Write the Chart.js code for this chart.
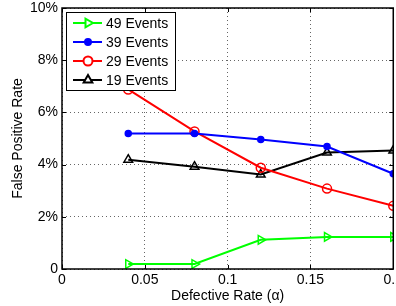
<!DOCTYPE html>
<html>
<head>
<meta charset="utf-8">
<script src="https://cdn.jsdelivr.net/npm/chart.js@4.4.0/dist/chart.umd.min.js"></script>
<style>
  html, body { margin: 0; padding: 0; background: #fff; overflow: hidden; }
  #wrap { width: 406px; height: 306px; }
</style>
</head>
<body>
<div id="wrap"><canvas id="fpChart" width="406" height="306"></canvas></div>
<script>
// данные
const defectRates = [0.04, 0.08, 0.12, 0.16, 0.2];
const events49 = [0.19, 0.19, 1.12, 1.23, 1.23];
const events39 = [5.19, 5.19, 4.96, 4.69, 3.65];
const events29 = [6.88, 5.27, 3.88, 3.08, 2.42];
const events19 = [4.19, 3.92, 3.62, 4.46, 4.54];
const xTicks = [0, 0.05, 0.1, 0.15, 0.2];
const yTicks = [0, 2, 4, 6, 8, 10];

const FONT = '"Liberation Sans", Arial, sans-serif';

function toPoints(arr) {
    return arr.map((v, i) => ({ x: defectRates[i], y: v }));
}

const seriesList = [
    { label: '49 Events', data: events49, color: '#00ff00', style: 'triangle', rotation: 90, radius: 5, fill: false },
    { label: '39 Events', data: events39, color: '#0000ff', style: 'circle', rotation: 0, radius: 3, fill: true },
    { label: '29 Events', data: events29, color: '#ff0000', style: 'circle', rotation: 0, radius: 4.5, fill: false },
    { label: '19 Events', data: events19, color: '#000000', style: 'triangle', rotation: 0, radius: 5, fill: false }
];

// рамка, внутренние засечки и легенда в стиле MATLAB
const framePlugin = {
    id: 'frame',
    afterDraw(chart) {
        const ctx = chart.ctx;
        const a = chart.chartArea;
        const xs = chart.scales.x, ys = chart.scales.y;
        ctx.save();
        ctx.strokeStyle = '#000';
        ctx.lineWidth = 1.5;
        ctx.setLineDash([]);
        ctx.strokeRect(a.left, a.top, a.right - a.left, a.bottom - a.top);
        ctx.lineWidth = 1;
        xTicks.forEach(t => {
            const px = Math.round(xs.getPixelForValue(t)) + 0.5;
            ctx.beginPath();
            ctx.moveTo(px, a.bottom); ctx.lineTo(px, a.bottom - 4);
            ctx.moveTo(px, a.top); ctx.lineTo(px, a.top + 4);
            ctx.stroke();
        });
        yTicks.forEach(t => {
            const py = Math.round(ys.getPixelForValue(t)) + 0.5;
            ctx.beginPath();
            ctx.moveTo(a.left, py); ctx.lineTo(a.left + 4, py);
            ctx.moveTo(a.right, py); ctx.lineTo(a.right - 4, py);
            ctx.stroke();
        });

        // легенда
        const bx = 66, by = 12, bw = 109, bh = 78;
        ctx.fillStyle = '#fff';
        ctx.fillRect(bx, by, bw, bh);
        ctx.lineWidth = 1;
        ctx.strokeStyle = '#000';
        ctx.strokeRect(bx + 0.5, by + 0.5, bw, bh);
        ctx.font = '14px ' + FONT;
        ctx.textBaseline = 'middle';
        seriesList.forEach((s, i) => {
            const yy = by + 11 + i * 19;
            ctx.strokeStyle = s.color;
            ctx.lineWidth = 2;
            ctx.beginPath();
            ctx.moveTo(bx + 7, yy); ctx.lineTo(bx + 36, yy);
            ctx.stroke();
            ctx.fillStyle = s.fill ? s.color : '#fff';
            Chart.helpers.drawPoint(ctx, {
                pointStyle: s.style, radius: s.radius, rotation: s.rotation, borderWidth: 1.5
            }, bx + 22, yy);
            ctx.fillStyle = '#000';
            ctx.fillText(s.label, bx + 40, yy + 1);
        });
        ctx.restore();
    }
};

const ctx = document.getElementById('fpChart').getContext('2d');
new Chart(ctx, {
    type: 'line',
    data: {
        datasets: seriesList.map(s => ({
            label: s.label,
            data: toPoints(s.data),
            borderColor: s.color,
            backgroundColor: s.fill ? s.color : 'rgba(255,255,255,0)',
            pointStyle: s.style,
            pointRotation: s.rotation,
            pointRadius: s.radius,
            pointBorderWidth: 1.5,
            borderWidth: 2,
            tension: 0
        }))
    },
    options: {
        responsive: false,
        animation: false,
        layout: { padding: { left: 4, top: 8, right: 0, bottom: 0 } },
        plugins: {
            legend: { display: false },
            tooltip: { enabled: false }
        },
        scales: {
            x: {
                type: 'linear',
                min: 0,
                max: 0.2,
                afterBuildTicks: scale => { scale.ticks = xTicks.map(v => ({ value: v })); },
                ticks: {
                    color: '#000',
                    font: { family: FONT, size: 14 },
                    maxRotation: 0,
                    padding: 3,
                    callback: v => (v === 0 ? '0' : String(v))
                },
                grid: { color: '#666', lineWidth: 1, drawTicks: false },
                border: { display: false, dash: [1, 3] },
                title: {
                    display: true,
                    text: 'Defective Rate (α)',
                    color: '#000',
                    font: { family: FONT, size: 14 },
                    padding: { top: 0, bottom: 1 }
                },
                afterFit: scale => { scale.height = 37; }
            },
            y: {
                min: 0,
                max: 10,
                afterBuildTicks: scale => { scale.ticks = yTicks.map(v => ({ value: v })); },
                ticks: {
                    color: '#000',
                    font: { family: FONT, size: 14 },
                    padding: 4,
                    callback: v => (v === 0 ? '0' : v + '%')
                },
                grid: { color: '#666', lineWidth: 1, drawTicks: false },
                border: { display: false, dash: [1, 3] },
                title: {
                    display: true,
                    text: 'False Positive Rate',
                    color: '#000',
                    font: { family: FONT, size: 14 },
                    padding: { top: 6, bottom: 4 }
                },
                afterFit: scale => { scale.width = 58; scale.paddingTop = 0; }
            }
        }
    },
    plugins: [framePlugin]
});
</script>
</body>
</html>
